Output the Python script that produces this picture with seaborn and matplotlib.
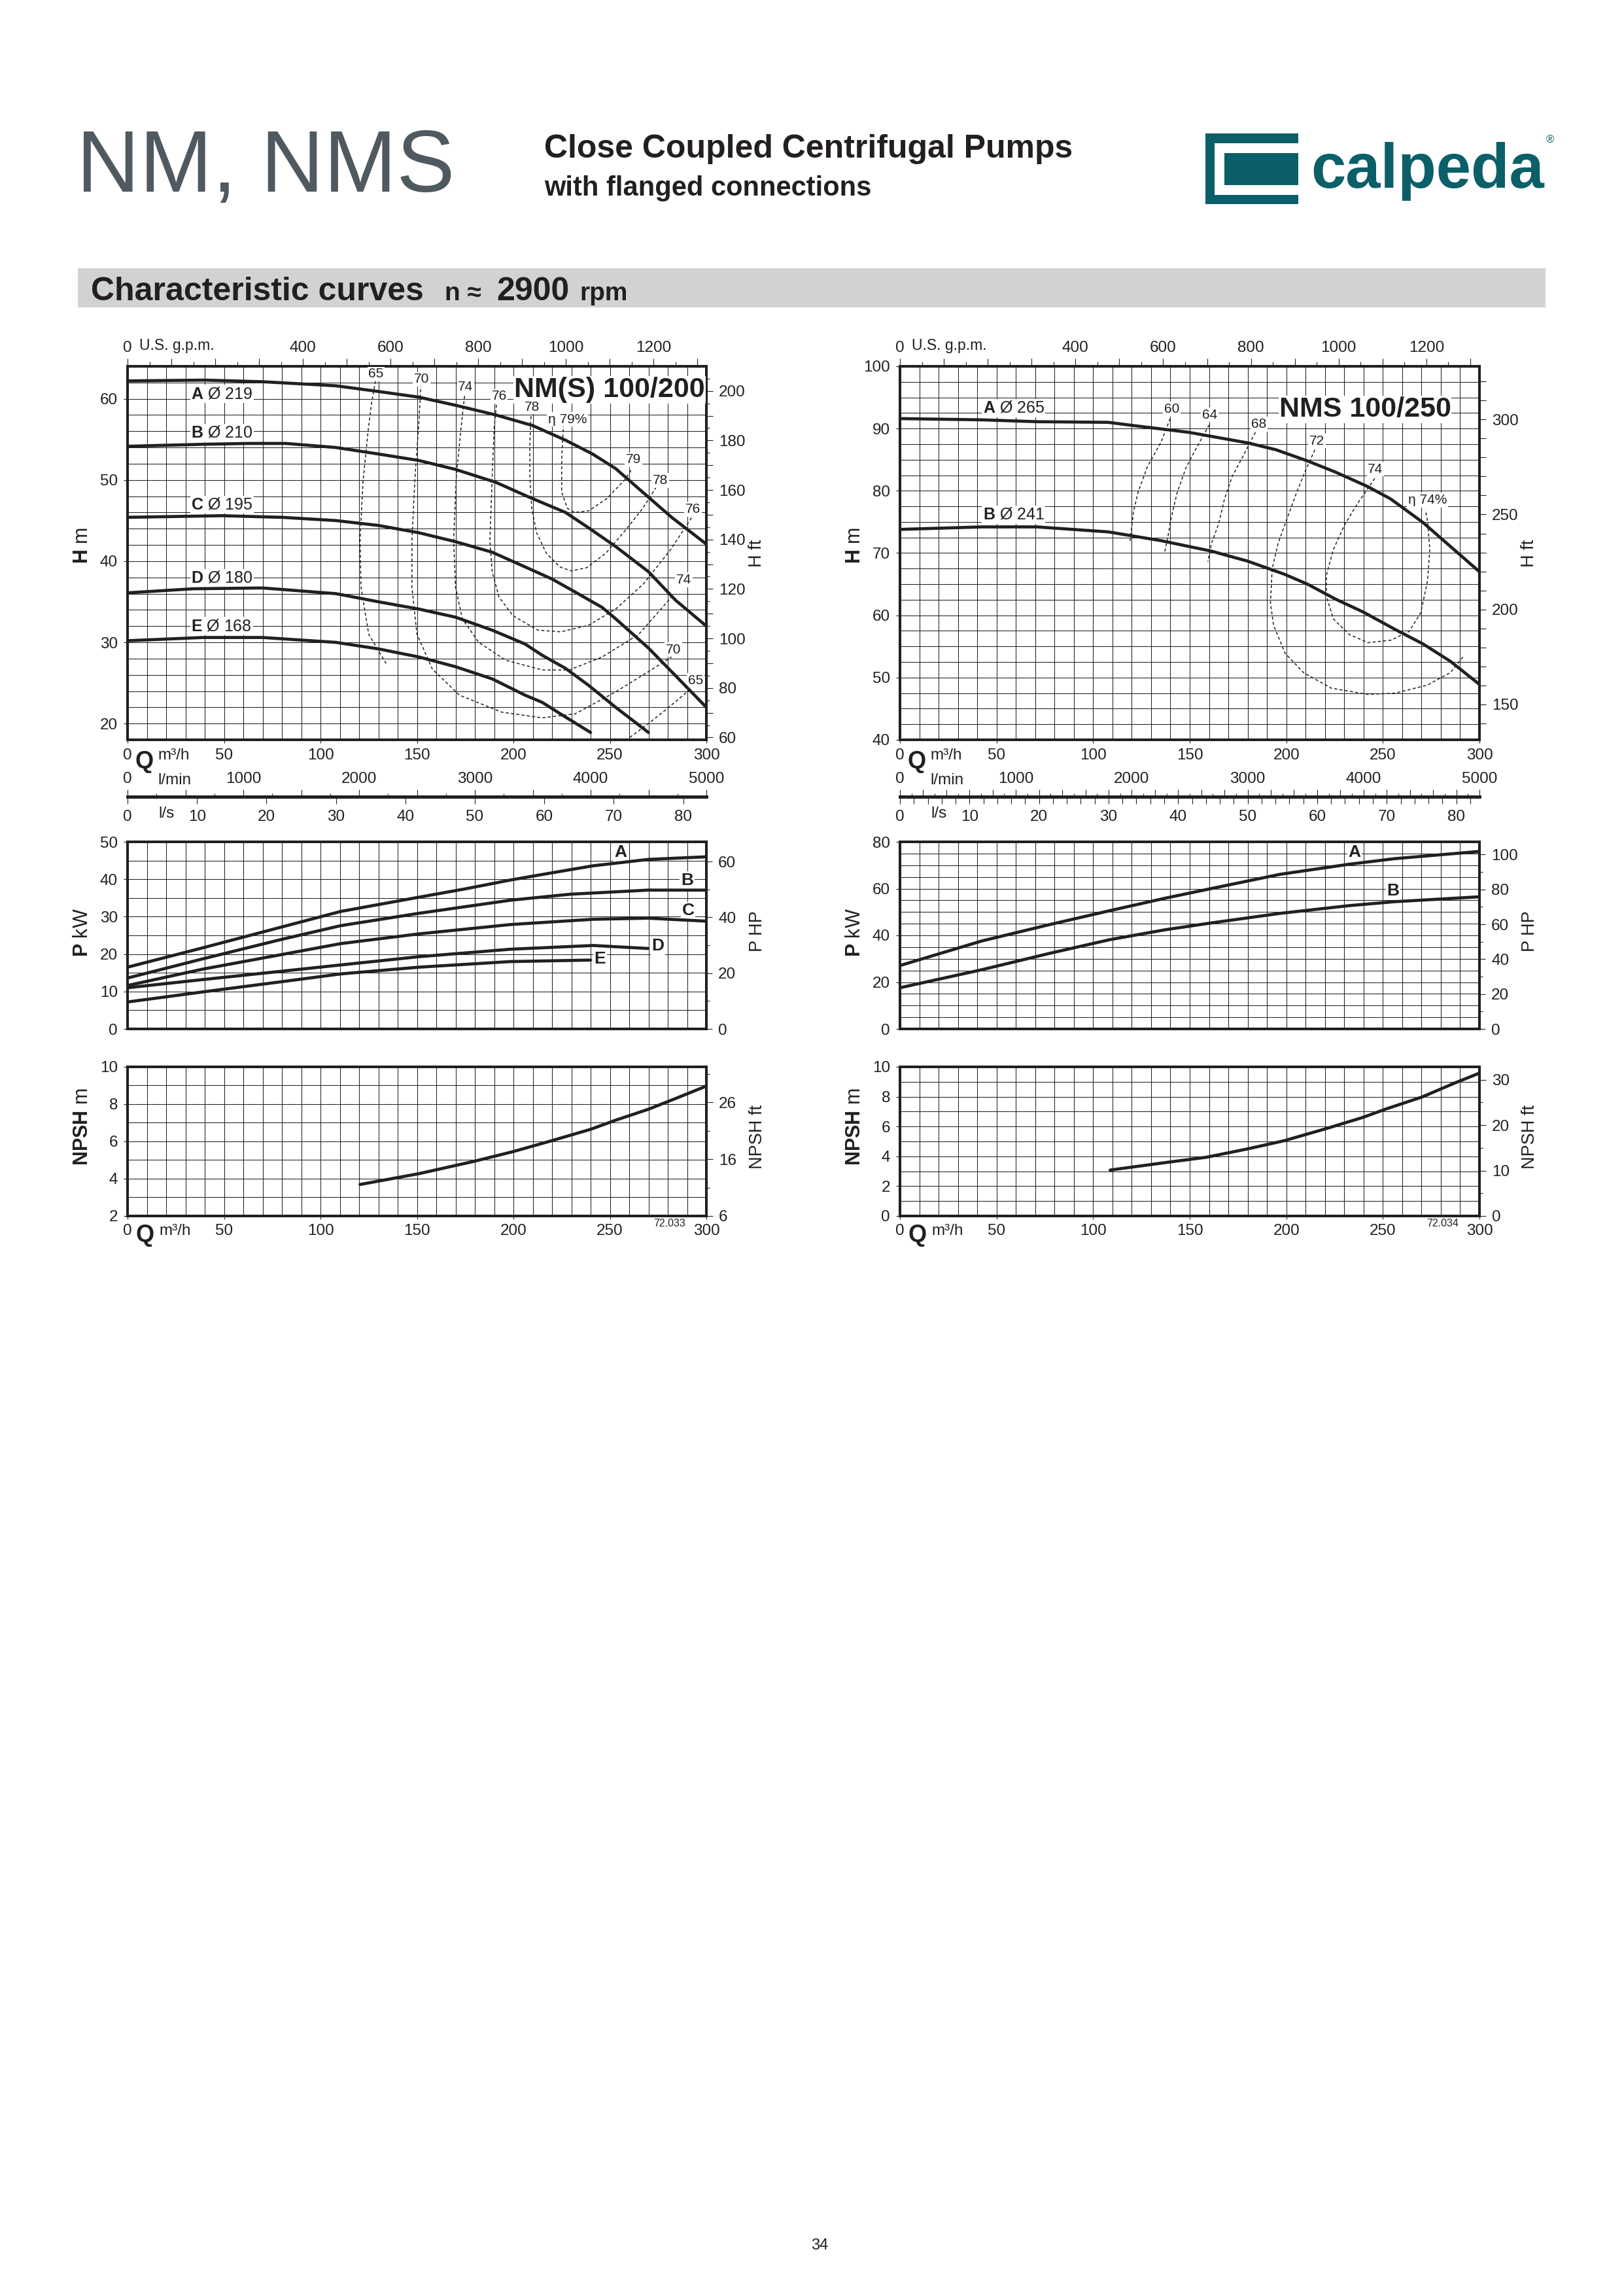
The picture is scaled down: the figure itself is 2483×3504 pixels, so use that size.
import numpy as np
import pandas as pd
import matplotlib
matplotlib.use("Agg")
import matplotlib.pyplot as plt
import matplotlib.ticker as mticker
from matplotlib import font_manager as fm
from matplotlib.patches import Rectangle
import seaborn as sns

# =========================== DATA ===========================
# ---- NM(S) 100/200 : head H [m] vs flow Q [m3/h]
nm_A_q = [0, 40, 70, 108, 130, 151, 170, 191, 210, 227, 241, 253, 267, 282, 300]
nm_A_h = [62.2, 62.3, 62.1, 61.6, 60.9, 60.2, 59.2, 58.0, 56.7, 54.9, 53.2, 51.4, 48.5, 45.4, 42.1]
nm_B_q = [0, 40, 63, 82, 108, 130, 151, 170, 191, 208, 227, 239, 253, 270, 284, 300]
nm_B_h = [54.15, 54.4, 54.5, 54.5, 54.0, 53.2, 52.4, 51.3, 49.7, 47.9, 46.0, 44.1, 41.8, 38.7, 35.2, 32.0]
nm_C_q = [0, 49, 80, 108, 130, 151, 170, 189, 206, 220, 232, 246, 253, 270, 284, 300]
nm_C_h = [45.4, 45.6, 45.4, 45.0, 44.4, 43.5, 42.4, 41.1, 39.3, 37.8, 36.2, 34.3, 32.9, 29.3, 25.9, 22.0]
nm_D_q = [0, 34, 70, 108, 130, 151, 170, 189, 206, 215, 227, 239, 253, 270]
nm_D_h = [36.1, 36.6, 36.7, 36.0, 35.0, 34.1, 33.1, 31.5, 29.8, 28.4, 26.8, 24.7, 22.0, 18.9]
nm_E_q = [0, 39, 70, 108, 130, 151, 170, 189, 206, 215, 227, 240]
nm_E_h = [30.2, 30.6, 30.6, 30.0, 29.2, 28.2, 27.0, 25.5, 23.5, 22.6, 20.8, 18.9]
nm_curve_names = ["A \u00d8 219", "B \u00d8 210", "C \u00d8 195", "D \u00d8 180", "E \u00d8 168"]

# ---- NM(S) 100/200 : iso-efficiency lines (Q, H)
nm_eff65a_q = [128.5, 126.5, 124.8, 122.0, 120.5, 121.0, 125.0, 134.0]
nm_eff65a_h = [62.2, 59.5, 56.3, 49.7, 42.6, 36.8, 31.0, 27.4]
nm_eff65b_q = [260.3, 270.0, 280.0, 290.0, 298.3]
nm_eff65b_h = [18.3, 20.0, 21.9, 23.9, 25.7]
nm_eff70_q = [152.3, 152.0, 151.0, 149.0, 147.4, 147.4, 150.0, 158.0, 172.0, 194.0, 215.0, 232.0, 253.0, 272.0, 282.0]
nm_eff70_h = [61.8, 61.6, 57.1, 50.4, 42.6, 36.8, 31.0, 26.7, 23.5, 21.4, 20.7, 21.2, 23.9, 26.7, 28.2]
nm_eff74_q = [175.0, 174.7, 172.8, 170.4, 169.0, 170.0, 173.5, 182.0, 196.0, 215.0, 229.0, 246.0, 265.0, 282.0]
nm_eff74_h = [61.0, 60.4, 56.3, 50.4, 42.6, 36.8, 32.9, 30.0, 27.8, 26.6, 26.6, 28.2, 31.0, 35.6]
nm_eff76_q = [191.5, 191.3, 190.0, 189.0, 187.8, 189.0, 192.5, 199.7, 212.7, 224.6, 238.9, 253.0, 267.4, 281.7, 292.4]
nm_eff76_h = [59.9, 59.6, 56.3, 50.4, 42.6, 38.7, 35.6, 33.3, 31.5, 31.3, 32.1, 34.1, 37.2, 41.5, 45.4]
nm_eff78_q = [209.3, 209.0, 208.5, 208.5, 209.5, 212.0, 217.0, 224.0, 230.0, 238.0, 248.0, 258.0, 267.0, 274.5]
nm_eff78_h = [58.5, 57.5, 54.3, 50.4, 46.5, 43.5, 41.0, 39.3, 38.8, 39.2, 41.0, 43.8, 46.5, 49.3]
nm_eff79_q = [226.0, 225.8, 225.0, 225.0, 228.0, 231.8, 239.0, 248.4, 258.0, 261.5]
nm_eff79_h = [56.9, 56.3, 52.4, 48.5, 46.5, 46.0, 46.2, 47.7, 50.1, 51.4]
nm_eff_labels = ["65", "70", "74", "76", "78", "\u03b7 79%", "79", "78", "76", "74", "70", "65"]

# ---- NM(S) 100/200 : power P [kW]
nm_P_A_q = [0, 39.2, 79.6, 110.5, 151, 174.7, 198.5, 217.5, 241.3, 269.8, 300]
nm_P_A = [16.5, 21.7, 27.2, 31.4, 35.2, 37.4, 39.8, 41.5, 43.6, 45.3, 46.0]
nm_P_B_q = [0, 39.2, 79.6, 110.5, 151, 198.5, 229.4, 269.8, 300]
nm_P_B = [13.6, 18.75, 23.9, 27.6, 30.9, 34.4, 36.0, 37.1, 37.1]
nm_P_C_q = [0, 39.2, 79.6, 110.5, 151, 198.5, 241.3, 269.8, 300]
nm_P_C = [11.6, 16.0, 19.85, 22.8, 25.4, 27.9, 29.3, 29.6, 28.8]
nm_P_D_q = [0, 39.2, 79.6, 110.5, 151, 198.5, 241.3, 269.8]
nm_P_D = [11.0, 13.2, 15.4, 17.1, 19.3, 21.3, 22.3, 21.5]
nm_P_E_q = [0, 39.2, 79.6, 110.5, 151, 198.5, 240]
nm_P_E = [7.2, 9.9, 12.6, 14.7, 16.5, 18.0, 18.4]
nm_P_names = ["A", "B", "C", "D", "E"]

# ---- NM(S) 100/200 : NPSH [m]
nm_npsh_q = [120.5, 151, 179.5, 199.7, 219.9, 240, 253, 269.8, 284, 300]
nm_npsh = [3.69, 4.27, 4.93, 5.45, 6.04, 6.65, 7.14, 7.72, 8.3, 8.97]

# ---- NMS 100/250 : head
nms_A_q = [0, 42.4, 70.9, 107.8, 123, 149.4, 180, 194.6, 211, 225.5, 242, 254, 270.8, 280, 300]
nms_A_h = [91.6, 91.4, 91.1, 91.0, 90.4, 89.4, 87.7, 86.6, 84.8, 83.0, 80.7, 78.7, 74.9, 72.4, 67.0]
nms_B_q = [0, 42.4, 70.9, 107.8, 135, 161.3, 180, 199, 211, 225.5, 240, 256.5, 270.8, 285, 300]
nms_B_h = [73.8, 74.2, 74.2, 73.4, 72.0, 70.3, 68.7, 66.6, 65.0, 62.6, 60.5, 57.7, 55.4, 52.6, 48.9]
nms_curve_names = ["A \u00d8 265", "B \u00d8 241"]

# ---- NMS 100/250 : iso-efficiency lines
nms_eff60_q = [139.9, 135.1, 128.0, 123.2, 120.9, 119.0]
nms_eff60_h = [91.6, 87.8, 83.8, 79.7, 76.7, 71.6]
nms_eff64_q = [160.1, 154.2, 148.2, 143.5, 140.4, 138.7, 137.0]
nms_eff64_h = [90.6, 87.3, 83.8, 79.7, 75.7, 72.6, 70.1]
nms_eff68_q = [184.0, 178.0, 172.0, 168.0, 164.9, 161.3, 159.4]
nms_eff68_h = [89.4, 85.8, 82.3, 78.7, 74.6, 71.6, 68.6]
nms_eff72_q = [214.8, 210.0, 205.3, 200.6, 195.8, 192.7, 191.8, 193.4, 199.4, 208.9, 223.2, 242.2, 256.5, 273.1, 285.0, 292.2]
nms_eff72_h = [86.6, 83.3, 79.7, 75.7, 71.6, 67.5, 62.0, 58.4, 53.9, 50.8, 48.3, 47.3, 47.5, 48.8, 50.8, 53.6]
nms_eff74_q = [245.8, 237.4, 230.3, 224.4, 220.8, 220.8, 224.4, 232.7, 242.2, 254.1, 263.6, 269.6, 273.1, 274.3, 273.1, 272.0]
nms_eff74_h = [82.0, 78.2, 74.6, 70.6, 66.5, 63.0, 59.4, 56.9, 55.6, 56.0, 57.4, 60.4, 65.5, 70.6, 75.2, 76.9]
nms_eff_labels = ["60", "64", "68", "72", "74", "\u03b7 74%"]

# ---- NMS 100/250 : power
nms_P_q = [0, 42.3, 77.9, 108.8, 137.3, 161, 196.7, 232.3, 256, 300]
nms_P_A = [27.1, 37.6, 44.7, 50.6, 55.9, 60.0, 66.1, 70.4, 72.8, 75.9]
nms_P_B = [17.6, 25.3, 32.4, 38.2, 42.4, 45.3, 49.4, 52.7, 54.4, 56.5]
nms_P_names = ["A", "B"]

# ---- NMS 100/250 : NPSH
nms_npsh_q = [108.8, 137.3, 158.7, 180, 199, 220.4, 239.4, 251.3, 270.3, 286.9, 300]
nms_npsh = [3.08, 3.58, 3.94, 4.5, 5.05, 5.85, 6.6, 7.16, 7.98, 8.9, 9.58]

# ---- tick labels
q_ticks = [0, 50, 100, 150, 200, 250, 300]
gpm_labels = [0, 400, 600, 800, 1000, 1200]
lmin_labels = [0, 1000, 2000, 3000, 4000, 5000]
ls_labels = [0, 10, 20, 30, 40, 50, 60, 70, 80]
nm_h_ticks = [20, 30, 40, 50, 60]
nm_hft_labels = [60, 80, 100, 120, 140, 160, 180, 200]
nms_h_ticks = [40, 50, 60, 70, 80, 90, 100]
nms_hft_labels = [150, 200, 250, 300]
nm_p_ticks = [0, 10, 20, 30, 40, 50]
nm_hp_labels = [0, 20, 40, 60]
nms_p_ticks = [0, 20, 40, 60, 80]
nms_hp_labels = [0, 20, 40, 60, 80, 100]
nm_npsh_ticks = [2, 4, 6, 8, 10]
nm_npshft_labels = [6, 16, 26]
nm_npshft_minor = [11, 21, 31]
nms_npsh_ticks = [0, 2, 4, 6, 8, 10]
nms_npshft_labels = [0, 10, 20, 30]

# =========================== STYLE ===========================
sns.set_theme(style="white")
plt.rcParams["font.family"] = ["Liberation Sans", "DejaVu Sans"]
plt.rcParams["mathtext.fontset"] = "custom"
plt.rcParams["mathtext.rm"] = "Liberation Sans"
plt.rcParams["mathtext.bf"] = "Liberation Sans:bold"
plt.rcParams["mathtext.it"] = "Liberation Sans:italic"
plt.rcParams["axes.unicode_minus"] = False

_installed = {f.name for f in fm.fontManager.ttflist}
HAS_NARROW = "Liberation Sans Narrow" in _installed
NARROW = ["Liberation Sans Narrow", "Liberation Sans"] if HAS_NARROW else ["Liberation Sans"]

INK = "#231f20"
GREY_TITLE = "#4f5960"
TEAL = "#0b5f69"
W, H = 2483, 3504
PT = 0.72          # points per pixel at 100 dpi
GPM = 4.40287      # US gpm per m3/h
FT = 3.28084
TICK = 17.5

fig = plt.figure(figsize=(W / 100, H / 100), dpi=100, facecolor="white")


def rect(x0, y0, x1, y1):
    return [x0 / W, 1 - y1 / H, (x1 - x0) / W, (y1 - y0) / H]


def ftext(px, py, s, **kw):
    kw.setdefault("color", INK)
    return fig.text(px / W, 1 - py / H, s, **kw)


def only(labels):
    s = set(int(v) for v in labels)

    def f(v, p):
        r = int(round(v))
        return str(r) if abs(v - r) < 1e-3 and r in s else ""
    return mticker.FuncFormatter(f)


def style_box(ax, ylim, yticks, ygrid, xlabels=True):
    ax.set_xlim(0, 300)
    ax.set_ylim(*ylim)
    ax.set_xlabel("")
    ax.set_ylabel("")
    ax.set_facecolor("white")
    ax.xaxis.set_major_locator(mticker.FixedLocator(q_ticks))
    ax.xaxis.set_minor_locator(mticker.MultipleLocator(10))
    ax.yaxis.set_major_locator(mticker.FixedLocator(yticks))
    ax.yaxis.set_minor_locator(mticker.MultipleLocator(ygrid))
    ax.grid(True, which="both", color=INK, linewidth=0.75)
    ax.set_axisbelow(True)
    for s in ax.spines.values():
        s.set_visible(True)
        s.set_color(INK)
        s.set_linewidth(2.9)
    ax.tick_params(which="minor", length=0)
    ax.tick_params(axis="y", which="major", direction="out", length=6 * PT, width=0.8,
                   color=INK, labelcolor=INK, labelsize=TICK, pad=9 * PT, left=True, right=False)
    if xlabels:
        ax.tick_params(axis="x", which="major", direction="out", length=5 * PT, width=0.8,
                       color=INK, labelcolor=INK, labelsize=TICK, pad=8 * PT, bottom=True, top=False)
    else:
        ax.tick_params(axis="x", which="major", length=0, labelbottom=False, bottom=False, top=False)


def sec_y(ax, fwd, inv, major, fmt, minor=None, long=10, short=5):
    sa = ax.secondary_yaxis("right", functions=(fwd, inv))
    sa.yaxis.set_major_locator(major)
    sa.yaxis.set_major_formatter(fmt)
    if minor is not None:
        sa.yaxis.set_minor_locator(minor)
    else:
        sa.yaxis.set_minor_locator(mticker.NullLocator())
    sa.tick_params(which="major", direction="out", length=long * PT, width=0.8, color=INK,
                   labelcolor=INK, labelsize=TICK, pad=9 * PT)
    sa.tick_params(which="minor", direction="out", length=short * PT, width=0.8, color=INK)
    sa.spines["right"].set_linewidth(2.9)
    sa.spines["right"].set_color(INK)
    return sa


def top_gpm(ax):
    sa = ax.secondary_xaxis("top", functions=(lambda q: q * GPM, lambda g: g / GPM))
    sa.xaxis.set_major_locator(mticker.MultipleLocator(100))
    sa.xaxis.set_minor_locator(mticker.MultipleLocator(50))
    sa.xaxis.set_major_formatter(only(gpm_labels))
    sa.tick_params(which="major", direction="out", length=12 * PT, width=0.8, color=INK,
                   labelcolor=INK, labelsize=TICK, pad=5 * PT)
    sa.tick_params(which="minor", direction="out", length=7 * PT, width=0.8, color=INK)
    sa.spines["top"].set_linewidth(2.9)
    sa.spines["top"].set_color(INK)


def bottom_scales(ax, lmin_major, lmin_minor, ls_minor):
    loc = -(1218 - 1131) / 571
    lm = ax.secondary_xaxis(loc, functions=(lambda q: q * 1000 / 60, lambda l: l * 60 / 1000))
    lm.set_alignment("top")
    lm.xaxis.set_major_locator(mticker.MultipleLocator(lmin_major))
    lm.xaxis.set_minor_locator(mticker.MultipleLocator(lmin_minor))
    lm.xaxis.set_major_formatter(only(lmin_labels))
    lm.tick_params(which="major", direction="out", length=11 * PT, width=0.8, color=INK,
                   labelcolor=INK, labelsize=TICK, pad=5 * PT)
    lm.tick_params(which="minor", direction="out", length=5 * PT, width=0.8, color=INK)
    for s in lm.spines.values():
        s.set_linewidth(3.4)
        s.set_color(INK)
    ls = ax.secondary_xaxis(loc, functions=(lambda q: q / 3.6, lambda v: v * 3.6))
    ls.xaxis.set_major_locator(mticker.FixedLocator(ls_labels))
    ls.xaxis.set_major_formatter(only(ls_labels))
    if ls_minor:
        ls.xaxis.set_minor_locator(mticker.MultipleLocator(ls_minor))
    else:
        ls.xaxis.set_minor_locator(mticker.NullLocator())
    ls.tick_params(which="both", direction="out", length=11 * PT, width=0.8, color=INK,
                   labelcolor=INK, labelsize=TICK, pad=9 * PT)
    for s in ls.spines.values():
        s.set_linewidth(3.4)
        s.set_color(INK)


def curve(ax, q, v, dashed=False):
    kw = dict(color=INK, linewidth=3.4, sort=False, estimator=None, ax=ax, zorder=4)
    if dashed:
        kw.update(linewidth=1.1, linestyle=(0, (3.0, 2.3)), zorder=2.5)
    sns.lineplot(x=np.asarray(q, float), y=np.asarray(v, float), **kw)


def label(ax, x, y, s, size=18, ha="left", z=3.6, **kw):
    ax.text(x, y, s, ha=ha, va="center", fontsize=size, color=INK, zorder=z,
            bbox=dict(facecolor="white", edgecolor="none", pad=1.2), **kw)


# =========================== HEADER ===========================
ftext(117, 293, "NM, NMS", fontsize=96, color=GREY_TITLE, va="baseline", ha="left")
ftext(832, 241, "Close Coupled Centrifugal Pumps", fontsize=36, fontweight="bold", va="baseline")
ftext(832, 299, "with flanged connections", fontsize=30, fontweight="bold", va="baseline")

fig.add_artist(Rectangle((1843 / W, 1 - 312 / H), (1985 - 1843) / W, (312 - 204) / H,
                         transform=fig.transFigure, facecolor=TEAL, edgecolor="none"))
fig.add_artist(Rectangle((1857 / W, 1 - 298 / H), (1985 - 1857) / W, (298 - 219) / H,
                         transform=fig.transFigure, facecolor="white", edgecolor="none"))
fig.add_artist(Rectangle((1872 / W, 1 - 283 / H), (1985 - 1872) / W, (283 - 234) / H,
                         transform=fig.transFigure, facecolor=TEAL, edgecolor="none"))
ftext(2004, 287, "calpeda", fontsize=69, fontweight="bold", color=TEAL, va="baseline")
ftext(2370, 214, "\u00ae", fontsize=12, color=TEAL, va="center", ha="center")

fig.add_artist(Rectangle((119 / W, 1 - 470 / H), (2363 - 119) / W, 60 / H,
                         transform=fig.transFigure, facecolor="#d1d2d4", edgecolor="none"))
ftext(139, 459, "Characteristic curves", fontsize=36, fontweight="bold", va="baseline")
ftext(680, 459, "n \u2248", fontsize=28, fontweight="bold", va="baseline")
ftext(759, 459, "2900", fontsize=36, fontweight="bold", va="baseline")
ftext(886, 459, "rpm", fontsize=28, fontweight="bold", va="baseline")

# =========================== LEFT : NM(S) 100/200 ===========================
axH = fig.add_axes(rect(195, 560, 1080, 1131))
for q, h in [(nm_A_q, nm_A_h), (nm_B_q, nm_B_h), (nm_C_q, nm_C_h), (nm_D_q, nm_D_h), (nm_E_q, nm_E_h)]:
    curve(axH, q, h)
for q, h in [(nm_eff65a_q, nm_eff65a_h), (nm_eff65b_q, nm_eff65b_h), (nm_eff70_q, nm_eff70_h),
             (nm_eff74_q, nm_eff74_h), (nm_eff76_q, nm_eff76_h), (nm_eff78_q, nm_eff78_h),
             (nm_eff79_q, nm_eff79_h)]:
    curve(axH, q, h, dashed=True)
style_box(axH, (18, 64), nm_h_ticks, 2)
sec_y(axH, lambda m: m * FT, lambda f: f / FT, mticker.MultipleLocator(10), only(nm_hft_labels),
      minor=mticker.MultipleLocator(5))
top_gpm(axH)
bottom_scales(axH, 500, 250, None)
axH.text(249.8, 60.2, "NM(S) 100/200", ha="center", va="baseline", fontweight="bold",
         fontsize=39 if HAS_NARROW else 31, family=NARROW, color=INK, zorder=3.4,
         bbox=dict(facecolor="white", edgecolor="none", pad=0.6))
for name, y in zip(nm_curve_names, [60.6, 55.8, 46.95, 37.95, 32.0]):
    label(axH, 33, y, r"$\mathbf{%s}$%s" % (name[0], name[1:]))
for s, (x, y) in zip(nm_eff_labels, [(128.8, 63.06), (152.4, 62.4), (175.2, 61.5), (192.6, 60.3),
                                      (209.5, 59.0), (228.0, 57.45), (262.3, 52.5), (276.2, 49.95),
                                      (293.1, 46.4), (288.3, 37.7), (283.0, 29.1), (294.5, 25.3)]):
    label(axH, x, y, s, size=15, ha="center", z=3.7)

axP = fig.add_axes(rect(195, 1287, 1080, 1573))
for q, p in [(nm_P_A_q, nm_P_A), (nm_P_B_q, nm_P_B), (nm_P_C_q, nm_P_C), (nm_P_D_q, nm_P_D), (nm_P_E_q, nm_P_E)]:
    curve(axP, q, p)
style_box(axP, (0, 50), nm_p_ticks, 5, xlabels=False)
sec_y(axP, lambda k: k * 1.341, lambda hp: hp / 1.341, mticker.FixedLocator(nm_hp_labels),
      only(nm_hp_labels), minor=mticker.MultipleLocator(10), long=9)
for s, (x, y) in zip(nm_P_names, [(255.5, 47.2), (290, 39.7), (290.5, 31.6), (275, 22.2), (244.8, 18.75)]):
    label(axP, x, y, s, size=19, ha="center", fontweight="bold")

axN = fig.add_axes(rect(195, 1631, 1080, 1859))
curve(axN, nm_npsh_q, nm_npsh)
style_box(axN, (2, 10), nm_npsh_ticks, 1)
axN.tick_params(axis="x", pad=7 * PT)
sec_y(axN, lambda m: 6 + (m - 2) * FT, lambda f: 2 + (f - 6) / FT, mticker.FixedLocator(nm_npshft_labels),
      only(nm_npshft_labels), minor=mticker.FixedLocator(nm_npshft_minor))

# =========================== RIGHT : NMS 100/250 ===========================
bxH = fig.add_axes(rect(1376, 560, 2262, 1131))
for q, h in [(nms_A_q, nms_A_h), (nms_B_q, nms_B_h)]:
    curve(bxH, q, h)
for q, h in [(nms_eff60_q, nms_eff60_h), (nms_eff64_q, nms_eff64_h), (nms_eff68_q, nms_eff68_h),
             (nms_eff72_q, nms_eff72_h), (nms_eff74_q, nms_eff74_h)]:
    curve(bxH, q, h, dashed=True)
style_box(bxH, (40, 100), nms_h_ticks, 2.5)
sec_y(bxH, lambda m: m * FT, lambda f: f / FT, mticker.MultipleLocator(10), only(nms_hft_labels))
top_gpm(bxH)
bottom_scales(bxH, 200, 100, 2)
bxH.text(240.8, 91.9, "NMS 100/250", ha="center", va="baseline", fontweight="bold",
         fontsize=39 if HAS_NARROW else 31, family=NARROW, color=INK, zorder=3.4,
         bbox=dict(facecolor="white", edgecolor="none", pad=0.6))
for name, y in zip(nms_curve_names, [93.3, 76.15]):
    label(bxH, 42.9, y, r"$\mathbf{%s}$%s" % (name[0], name[1:]))
for s, (x, y) in zip(nms_eff_labels, [(140.6, 93.1), (160.4, 92.2), (185.9, 90.7), (215.9, 88.0),
                                       (246.1, 83.5), (273.2, 78.5)]):
    label(bxH, x, y, s, size=15, ha="center", z=3.7)

bxP = fig.add_axes(rect(1376, 1287, 2262, 1573))
for p in [nms_P_A, nms_P_B]:
    curve(bxP, nms_P_q, p)
style_box(bxP, (0, 80), nms_p_ticks, 5, xlabels=False)
sec_y(bxP, lambda k: k * 1.341, lambda hp: hp / 1.341, mticker.FixedLocator(nms_hp_labels),
      only(nms_hp_labels), minor=mticker.MultipleLocator(10), long=9)
for s, (x, y) in zip(nms_P_names, [(235.2, 75.5), (255.3, 59.1)]):
    label(bxP, x, y, s, size=19, ha="center", fontweight="bold")

bxN = fig.add_axes(rect(1376, 1631, 2262, 1859))
curve(bxN, nms_npsh_q, nms_npsh)
style_box(bxN, (0, 10), nms_npsh_ticks, 1)
bxN.tick_params(axis="x", pad=7 * PT)
sec_y(bxN, lambda m: m * FT, lambda f: f / FT, mticker.FixedLocator(nms_npshft_labels),
      only(nms_npshft_labels), minor=mticker.MultipleLocator(5))

# =========================== AXIS TITLES / UNITS ===========================
for dx in (0, 1181):
    ftext(126 + dx, 834, r"$\mathbf{H}$ m", fontsize=22, rotation=90, ha="center", va="center")
    ftext(1157 + dx, 846, "H ft", fontsize=19.5, rotation=90, ha="center", va="center")
    ftext(126 + dx, 1426, r"$\mathbf{P}$ kW", fontsize=22, rotation=90, ha="center", va="center")
    ftext(1158 + dx, 1424, "P HP", fontsize=19.5, rotation=90, ha="center", va="center")
    ftext(126 + dx, 1723, r"$\mathbf{NPSH}$ m", fontsize=22, rotation=90, ha="center", va="center")
    ftext(1158 + dx, 1738, "NPSH ft", fontsize=19.5, rotation=90, ha="center", va="center")
    ftext(213 + dx, 529, "U.S. g.p.m.", fontsize=16.5, ha="left", va="center")
    ftext(221 + dx, 1165, "Q", fontsize=26, fontweight="bold", ha="center", va="center")
    ftext(241 + dx, 1155, "m\u00b3/h", fontsize=TICK, ha="left", va="center")
    ftext(241 + dx, 1193, "l/min", fontsize=TICK, ha="left", va="center")
    ftext(242 + dx, 1244, "l/s", fontsize=TICK, ha="left", va="center")
    ftext(222 + dx, 1888, "Q", fontsize=26, fontweight="bold", ha="center", va="center")
    ftext(243 + dx, 1882, "m\u00b3/h", fontsize=TICK, ha="left", va="center")

ftext(1024, 1871, "72.033", fontsize=11.5, ha="center", va="center")
ftext(2206, 1871, "72.034", fontsize=11.5, ha="center", va="center")
ftext(1253, 3433, "34", fontsize=17, ha="center", va="center")

fig.savefig("out.png", dpi=100, facecolor="white")
